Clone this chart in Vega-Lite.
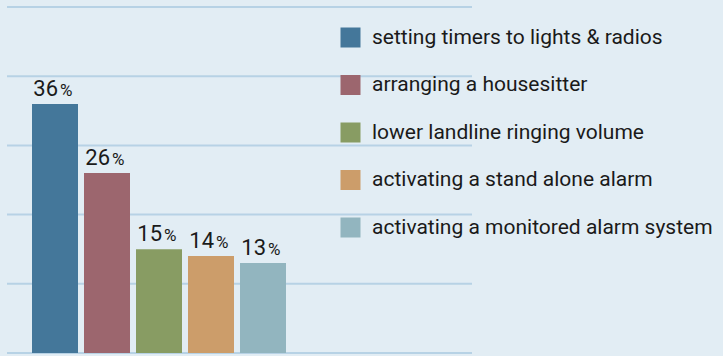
{
  "$schema": "https://vega.github.io/schema/vega-lite/v6.json",
  "width": 465,
  "height": 346,
  "padding": {"left": 7, "top": 7, "right": 251, "bottom": 3},
  "autosize": {"type": "none"},
  "background": "#e2edf4",
  "config": {"view": {"stroke": null}, "font": "Roboto"},
  "datasets": {
    "bars": [
      {"activity": "setting timers to lights & radios", "pct": 36},
      {"activity": "arranging a housesitter", "pct": 26},
      {"activity": "lower landline ringing volume", "pct": 15},
      {"activity": "activating a stand alone alarm", "pct": 14},
      {"activity": "activating a monitored alarm system", "pct": 13}
    ],
    "grid": [{"v": 0}, {"v": 10}, {"v": 20}, {"v": 30}, {"v": 40}, {"v": 50}]
  },
  "layer": [
    {
      "data": {"name": "grid"},
      "mark": {"type": "rule", "color": "#b7d2e5", "strokeWidth": 2},
      "encoding": {
        "y": {"field": "v", "type": "quantitative", "scale": {"domain": [0, 50]}, "axis": null}
      }
    },
    {
      "data": {"name": "bars"},
      "encoding": {
        "x": {
          "field": "activity",
          "type": "nominal",
          "sort": null,
          "axis": null,
          "scale": {"range": [22, 282], "paddingInner": 0.1154, "paddingOuter": 0.0577}
        },
        "y": {"field": "pct", "type": "quantitative", "scale": {"domain": [0, 50]}, "axis": null}
      },
      "layer": [
        {
          "mark": {"type": "bar"},
          "encoding": {
            "color": {
              "field": "activity",
              "type": "nominal",
              "sort": null,
              "scale": {"range": ["#44779a", "#9c666e", "#889c63", "#cc9d6a", "#92b5bf"]},
              "legend": {
                "orient": "none",
                "legendX": 333,
                "legendY": 20,
                "title": null,
                "symbolType": "square",
                "symbolSize": 400,
                "symbolStrokeWidth": 0,
                "symbolOpacity": 1,
                "labelFontSize": 21,
                "labelColor": "#1a1a1a",
                "labelFont": "Roboto",
                "labelOffset": 11,
                "rowPadding": 25.5,
                "labelLimit": 400
              }
            }
          }
        },
        {
          "mark": {"type": "text", "align": "right", "baseline": "alphabetic", "dx": 3, "dy": -8, "fontSize": 22, "color": "#1a1a1a"},
          "encoding": {"text": {"field": "pct", "type": "quantitative"}}
        },
        {
          "mark": {"type": "text", "align": "left", "baseline": "alphabetic", "dx": 5, "dy": -8, "fontSize": 17, "color": "#1a1a1a", "text": "%"},
          "encoding": {}
        }
      ]
    }
  ]
}
